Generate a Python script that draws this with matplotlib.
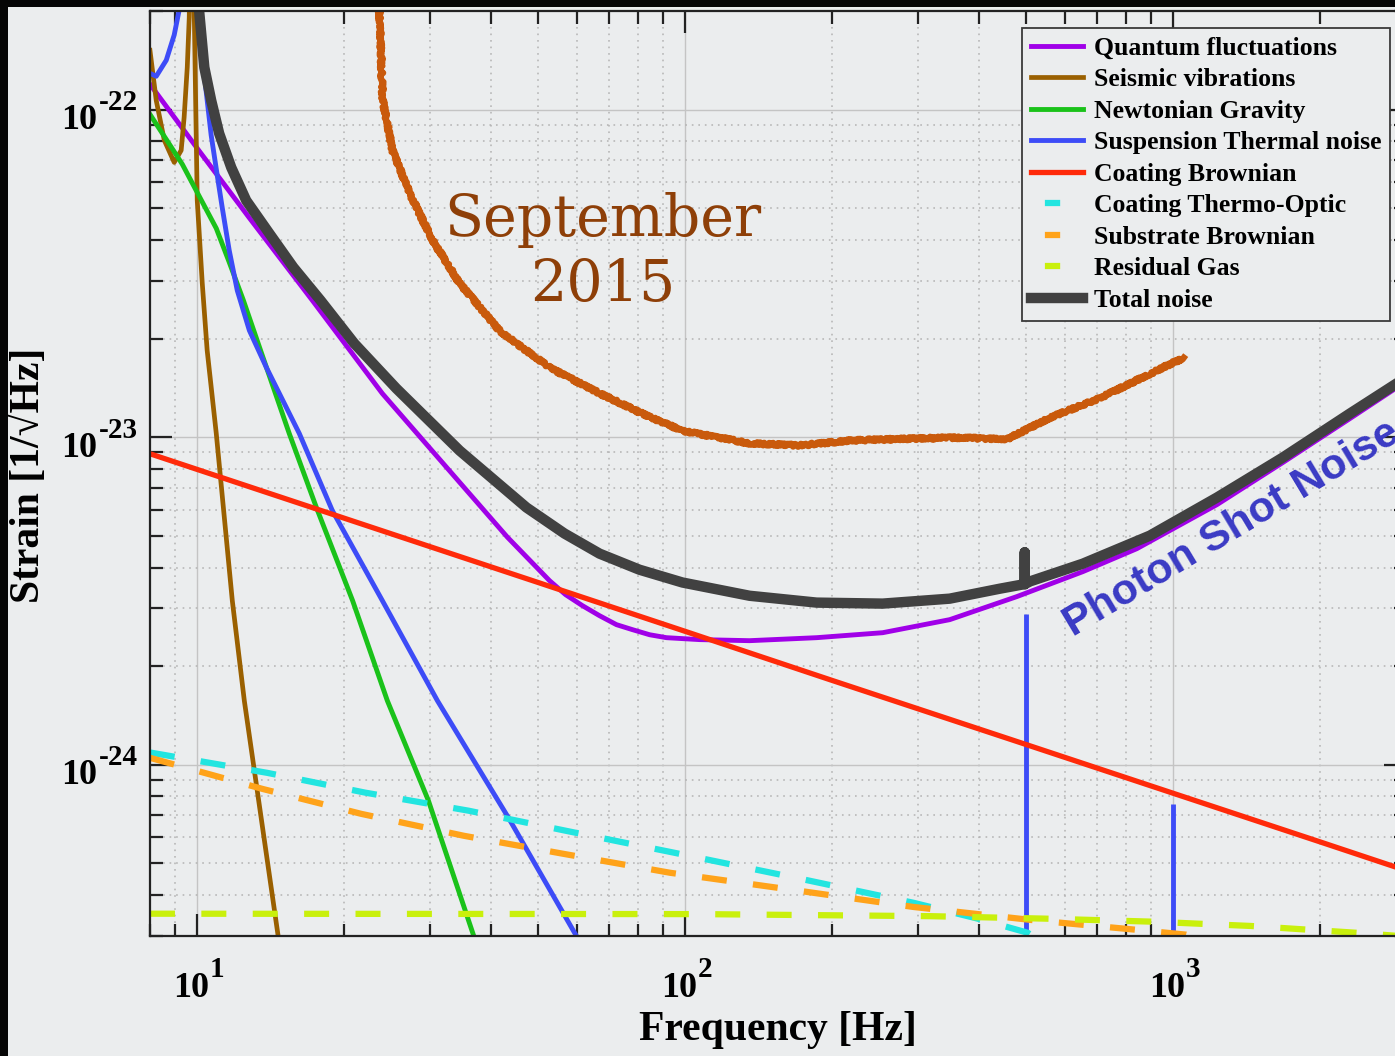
import matplotlib
matplotlib.use("Agg")
import math
import matplotlib.pyplot as plt
from matplotlib.lines import Line2D
from matplotlib.patches import Rectangle
from matplotlib.ticker import LogLocator, NullFormatter

plt.rcParams['font.family'] = ['Liberation Serif', 'DejaVu Serif']
plt.rcParams['font.weight'] = 'bold'
plt.rcParams['lines.scale_dashes'] = False

BG = '#ebedee'

# noise budget curves: frequency [Hz], strain [1/sqrt(Hz)]
quantum_f = [8.0, 10.09, 12.79, 17.22, 23.96, 31.8, 43.24, 52.74, 56.9, 61.6,
             66.8, 72.35, 78.0, 84.6, 91.6, 107.1, 135.6, 186.1, 254.2, 348.8,
             478.6, 653.8, 843.9, 1231, 1681, 2307, 3006]
quantum_h = [1.195e-22, 7.48e-23, 4.67e-23, 2.615e-23, 1.359e-23, 8.37e-24,
             4.95e-24, 3.648e-24, 3.306e-24, 3.06e-24, 2.851e-24, 2.677e-24,
             2.585e-24, 2.494e-24, 2.443e-24, 2.41e-24, 2.392e-24, 2.443e-24,
             2.53e-24, 2.773e-24, 3.26e-24, 3.886e-24, 4.568e-24, 6.223e-24,
             8.37e-24, 1.14e-23, 1.479e-23]

seismic_f = [8.0, 8.24, 8.56, 8.97, 9.27, 9.40, 9.54, 9.63, 9.74, 9.86, 10.0,
             10.24, 10.48, 10.94, 11.8, 12.49, 14.67, 15.0]
seismic_h = [1.517e-22, 1.067e-22, 8.06e-23, 6.9e-23, 7.51e-23, 9.47e-23,
             1.346e-22, 1.91e-22, 6e-22, 1.97e-22, 5.28e-23, 2.95e-23,
             1.84e-23, 1.026e-23, 3.17e-24, 1.567e-24, 2.96e-25, 2.5e-25]

newton_f = [8.0, 8.64, 9.32, 10.1, 10.94, 11.63, 12.43, 13.53, 15.44, 17.55,
            20.82, 24.53, 29.78, 37.0, 37.85]
newton_h = [9.67e-23, 8.11e-23, 6.81e-23, 5.43e-23, 4.34e-23, 3.42e-23,
            2.62e-23, 1.814e-23, 1.026e-23, 6.1e-24, 3.17e-24, 1.569e-24,
            7.77e-25, 2.96e-25, 2.67e-25]

susp_f = [8.0, 8.24, 8.64, 8.97, 9.18, 9.5, 10.05, 10.34, 10.68, 10.99, 11.25,
          11.63, 12.08, 12.79, 13.86, 16.19, 18.92, 23.96, 31.07, 43.45, 60.2,
          63.7]
susp_h = [1.29e-22, 1.264e-22, 1.415e-22, 1.69e-22, 2.01e-22, 5e-22, 2.16e-22,
          1.273e-22, 8.35e-23, 6.3e-23, 5.03e-23, 3.716e-23, 2.805e-23,
          2.118e-23, 1.632e-23, 1.026e-23, 5.97e-24, 3.17e-24, 1.569e-24,
          6.89e-25, 2.96e-25, 2.52e-25]

# violin mode lines of the suspension
violin_f = [500, 1000]
violin_top = [2.89e-24, 7.6e-25]

coat_f = [8, 10, 20, 50, 100, 200, 500, 1000, 2000, 3000]
coat_h = [8.9e-24, 7.97e-24, 5.66e-24, 3.60e-24, 2.555e-24, 1.81e-24,
          1.153e-24, 8.19e-25, 5.82e-25, 4.76e-25]

thermo_f = [8.0, 13.9, 22.1, 36.0, 57.2, 94.9, 172, 294, 398, 504, 536]
thermo_h = [1.09e-24, 9.45e-25, 8.22e-25, 7.24e-25, 6.28e-25, 5.39e-25,
            4.49e-25, 3.79e-25, 3.39e-25, 3.07e-25, 2.9e-25]

subst_f = [8.0, 13.6, 21.7, 35.2, 56.2, 93.2, 172, 294, 511, 832, 1063, 1200]
subst_h = [1.05e-24, 8.44e-25, 7.08e-25, 6.07e-25, 5.35e-25, 4.68e-25,
           4.12e-25, 3.68e-25, 3.36e-25, 3.14e-25, 3.03e-25, 2.88e-25]

gas_f = [8.0, 107, 318, 549, 901, 1446, 1876, 2376, 3000]
gas_h = [3.51e-25, 3.50e-25, 3.45e-25, 3.39e-25, 3.32e-25, 3.22e-25,
         3.14e-25, 3.07e-25, 2.99e-25]

total_f = [10.0, 10.34, 10.68, 11.09, 11.74, 12.6, 14.05, 15.74, 17.88, 20.99,
           25.6, 34.5, 47.3, 56.6, 66.8, 80.6, 98.8, 135.6, 186.1, 254.2,
           348.8, 441.8, 497, 497, 497, 510, 653.8, 897, 1231, 1681, 2307,
           3006]
total_h = [2.31e-22, 1.346e-22, 1.067e-22, 8.46e-23, 6.66e-23, 5.28e-23,
           4.19e-23, 3.30e-23, 2.62e-23, 1.932e-23, 1.408e-23, 9.1e-24,
           6.1e-24, 5.08e-24, 4.41e-24, 3.94e-24, 3.6e-24, 3.28e-24,
           3.126e-24, 3.104e-24, 3.214e-24, 3.447e-24, 3.56e-24, 4.45e-24,
           3.56e-24, 3.63e-24, 4.11e-24, 5.005e-24, 6.54e-24, 8.67e-24,
           1.181e-23, 1.522e-23]

# measured sensitivity, September 2015
sept_f = [23.5, 23.99, 25.14, 27.25, 30.37, 34.51, 41.7, 52.8, 66.9, 84.8,
          99.1, 136, 172, 218, 350, 458, 562, 712, 901, 1053]
sept_h = [2.5e-22, 1.07e-22, 7.5e-23, 5.55e-23, 3.99e-23, 2.95e-23, 2.11e-23,
          1.63e-23, 1.36e-23, 1.15e-23, 1.045e-23, 9.57e-24, 9.44e-24,
          9.77e-24, 9.97e-24, 9.87e-24, 1.15e-23, 1.32e-23, 1.565e-23,
          1.75e-23]

xtick_vals = [10, 100, 1000]
ytick_vals = [1e-22, 1e-23, 1e-24]

fig = plt.figure(figsize=(13.95, 10.56), dpi=100, facecolor=BG)
ax = fig.add_axes([0.1075, 0.1136, 0.9001, 0.876])
ax.set_facecolor(BG)
ax.set_xscale('log')
ax.set_yscale('log')
ax.set_xlim(8, 3000)
ax.set_ylim(3e-25, 2e-22)

c_q, c_s, c_n, c_b = '#a000e8', '#9a6000', '#1ac21a', '#3d4cf7'
c_r, c_c, c_o, c_g = '#ff2a0a', '#22e5e0', '#ffa31a', '#c9f00c'
c_t = '#414141'
dash = (18, 19)

lq, = ax.plot(quantum_f, quantum_h, color=c_q, lw=3.5)
ls_, = ax.plot(seismic_f, seismic_h, color=c_s, lw=3.4)
ln, = ax.plot(newton_f, newton_h, color=c_n, lw=3.5)
lb, = ax.plot(susp_f, susp_h, color=c_b, lw=3.5)
ax.vlines(violin_f, 1e-25, violin_top, color=c_b, lw=3.5)
lr, = ax.plot(coat_f, coat_h, color=c_r, lw=3.8)
ax.plot(thermo_f, thermo_h, color=c_c, lw=4.5, dashes=dash)
ax.plot(subst_f, subst_h, color=c_o, lw=4.5, dashes=dash)
ax.plot(gas_f, gas_h, color=c_g, lw=4.5, dashes=dash)
lt, = ax.plot(total_f, total_h, color=c_t, lw=7.5)

sep, = ax.plot(sept_f, sept_h, color='#c95a0c', lw=4.5)
sep.set_sketch_params(scale=1.5, length=2.5, randomness=2.5)

ax.text(67.7, 3.66e-23, 'September\n2015', ha='center', va='center',
        fontsize=41, color='#8e3f08', fontfamily='DejaVu Serif',
        fontweight='normal', linespacing=1.22)
ax.text(624, 2.46e-24, 'Photon Shot Noise', rotation=31,
        rotation_mode='anchor', ha='left', va='baseline', fontsize=31,
        color='#3a3ac4', fontfamily='Liberation Sans', fontweight='bold')

# ticks and grid
for axis in (ax.xaxis, ax.yaxis):
    axis.set_minor_locator(LogLocator(base=10, subs=range(2, 10), numticks=50))
    axis.set_minor_formatter(NullFormatter())
ax.set_xticks(xtick_vals)
ax.set_yticks(ytick_vals)
ax.set_axisbelow(True)
ax.grid(True, which='major', color='#c4c4c4', lw=1.0, ls='-')
ax.grid(True, which='minor', color='#b3b3b3', lw=1.1, ls=(0, (1.2, 3.5)))
ax.tick_params(which='both', direction='in', top=True, right=True,
               color='#222222', width=1.6, labelbottom=False, labelleft=False)
ax.tick_params(which='major', length=16)
ax.tick_params(which='minor', length=9)
for sp in ax.spines.values():
    sp.set_linewidth(1.6)
    sp.set_color('#222222')

# tick labels drawn as "10" plus a large superscript, like the original
for v in xtick_vals:
    e = str(int(round(math.log10(v))))
    ax.annotate('10', xy=(v, 0), xycoords=('data', 'axes fraction'),
                xytext=(8.6, -44), textcoords='offset points', ha='right',
                va='baseline', fontsize=26, annotation_clip=False)
    ax.annotate(e, xy=(v, 0), xycoords=('data', 'axes fraction'),
                xytext=(9.2, -29.5), textcoords='offset points', ha='left',
                va='baseline', fontsize=21, annotation_clip=False)
for v in ytick_vals:
    e = '-' + str(int(round(-math.log10(v))))
    ax.annotate('10', xy=(0, v), xycoords=('axes fraction', 'data'),
                xytext=(-38.2, -14.2), textcoords='offset points', ha='right',
                va='baseline', fontsize=26, annotation_clip=False)
    ax.annotate(e, xy=(0, v), xycoords=('axes fraction', 'data'),
                xytext=(-36.9, -0.3), textcoords='offset points', ha='left',
                va='baseline', fontsize=21, annotation_clip=False)

ax.set_xlabel('Frequency [Hz]', fontsize=30, fontweight='bold')
ax.xaxis.set_label_coords(0.5, -0.1016)
ax.xaxis.label.set_va('center')
ax.set_ylabel('Strain [1/\u221aHz]', fontsize=30, fontweight='bold')
ax.yaxis.set_label_coords(-0.0972, 0.498)
ax.yaxis.label.set_va('center')
ax.yaxis.label.set_ha('center')

# legend; dashed entries get a single centred dash like the original
dash_handle = (27.4, (11, 26.4))
handles = [lq, ls_, ln, lb, lr,
           Line2D([], [], color=c_c, lw=4.5, ls=dash_handle),
           Line2D([], [], color=c_o, lw=4.5, ls=dash_handle),
           Line2D([], [], color=c_g, lw=4.5, ls=dash_handle),
           lt]
labels = ['Quantum fluctuations', 'Seismic vibrations', 'Newtonian Gravity',
          'Suspension Thermal noise', 'Coating Brownian',
          'Coating Thermo-Optic', 'Substrate Brownian', 'Residual Gas',
          'Total noise']
leg = ax.legend(handles, labels, loc='upper right',
                bbox_to_anchor=(1390 / 1395, 1 - 28 / 1056),
                bbox_transform=fig.transFigure, borderaxespad=0,
                fontsize=18.5, handlelength=2.02, handletextpad=0.42,
                labelspacing=0.33, borderpad=0.35, fancybox=False,
                framealpha=1, facecolor=BG, edgecolor='#3a3a3a')
leg.get_frame().set_linewidth(1.3)

# dark border of the original screenshot
fig.add_artist(Rectangle((0, 0), 8 / 1395, 1, transform=fig.transFigure,
                         facecolor='#060606', edgecolor='none', zorder=10))
fig.add_artist(Rectangle((0, 1 - 7 / 1056), 1, 7 / 1056,
                         transform=fig.transFigure, facecolor='#060606',
                         edgecolor='none', zorder=10))

fig.savefig('out.png', dpi=100, facecolor=BG)
